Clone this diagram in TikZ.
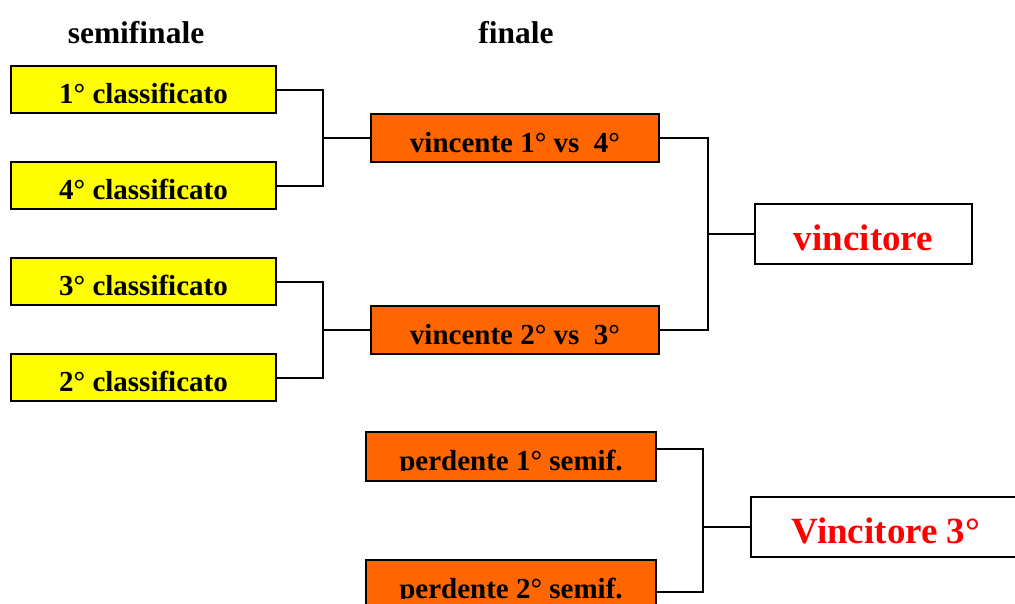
\documentclass[tikz,border=0pt]{standalone}
\usepackage{fontspec}
\setmainfont{Liberation Serif}
\usetikzlibrary{positioning, calc}
\definecolor{seedyellow}{HTML}{FFFF00}
\definecolor{matchorange}{HTML}{FF6600}
\definecolor{winred}{HTML}{FF0000}
\newcommand{\boxfont}{\fontsize{29}{32}\selectfont\bfseries}

\begin{document}
\begin{tikzpicture}[x=1pt, y=-1pt,
    seedbox/.style={rectangle, draw=black, line width=2pt, fill=seedyellow, inner sep=0pt, minimum width=265pt, minimum height=47pt, text height=37pt, text depth=10pt, font=\boxfont},
    matchbox/.style={rectangle, draw=black, line width=2pt, fill=matchorange, inner sep=0pt, minimum width=288pt, minimum height=48pt, text height=38pt, text depth=10pt, font=\boxfont},
    losebox/.style={rectangle, draw=black, line width=2pt, fill=matchorange, inner sep=0pt, minimum width=290pt, minimum height=49pt,
        path picture={
            \clip (path picture bounding box.north west) rectangle ([yshift=11pt]path picture bounding box.south east);
            \node[anchor=base, inner sep=0pt, font=\boxfont] at ([yshift=11pt]path picture bounding box.south) {#1};
        }},
    winbox/.style={rectangle, draw=black, line width=2pt, fill=white, inner sep=0pt, minimum height=60pt, text height=46pt, text depth=14pt, text=winred, font=\fontsize{37}{40}\selectfont\bfseries},
    title/.style={anchor=base, inner sep=0pt, font=\fontsize{31.5}{34}\selectfont\bfseries},
    link/.style={line width=2pt}
]
\useasboundingbox (0,0) rectangle (1015,603);
\clip (0,0) rectangle (1015,603);

% Column titles
\node[title] (tsemi) at (136,43) {semifinale};
\node[title] (tfin) at (516,43) {finale};

% Semifinal boxes
\node[seedbox] (c1) at (143.5,89.5) {1° classificato};
\node[seedbox] (c4) at (143.5,185.5) {4° classificato};
\node[seedbox] (c3) at (143.5,281.5) {3° classificato};
\node[seedbox] (c2) at (143.5,377.5) {2° classificato};

% Final boxes
\node[matchbox] (v14) at (515,138) {vincente 1° vs\ \ 4°};
\node[matchbox] (v23) at (515,330) {vincente 2° vs\ \ 3°};
\node[losebox={perdente 1° semif.}] (p1) at (511,456.5) {};
\node[losebox={perdente 2° semif.}] (p2) at (511,584.5) {};

% Winners
\node[winbox, minimum width=217pt] (win) at (863.5,234) {vincitore};
\node[winbox, minimum width=270pt] (third) at (886,527) {Vincitore 3°};

% Junctions
\coordinate (j1) at (323,138);
\coordinate (j2) at (323,330);
\coordinate (j3) at (708,234);
\coordinate (j4) at (703,527);

% Connectors
\draw[link] (c1.east) -| (j1) |- (c4.east);
\draw[link] (j1) -- (v14.west);
\draw[link] (c3.east) -| (j2) |- (c2.east);
\draw[link] (j2) -- (v23.west);
\draw[link] (v14.east) -| (j3) |- (v23.east);
\draw[link] (j3) -- (win.west);
\draw[link] ([yshift=7.5pt]p1.east) -| (j4) |- ([yshift=-7.5pt]p2.east);
\draw[link] (j4) -- (third.west);

\end{tikzpicture}
\end{document}
